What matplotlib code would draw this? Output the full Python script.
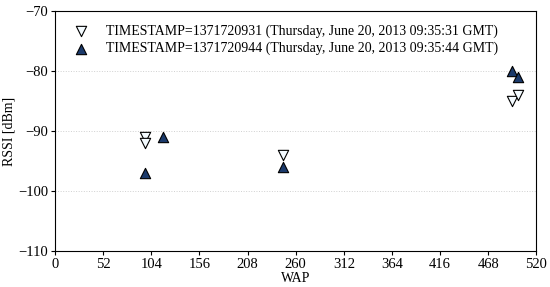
import numpy as np
import matplotlib
matplotlib.use('Agg')
import matplotlib.pyplot as plt

plt.rcParams['font.family'] = ['Liberation Serif', 'DejaVu Serif']
plt.rcParams['mathtext.fontset'] = 'stix'

# readings from the two scans
wap_a = [97, 97, 246, 494, 500]
rssi_a = [-91, -92, -94, -85, -84]
wap_b = [97, 117, 246, 494, 500]
rssi_b = [-97, -91, -96, -80, -81]

label_a = 'TIMESTAMP=1371720931 (Thursday, June 20, 2013 09:35:31 GMT)'
label_b = 'TIMESTAMP=1371720944 (Thursday, June 20, 2013 09:35:44 GMT)'

xticks = np.arange(0, 521, 52)
yticks = np.arange(-110, -69, 10)

fig = plt.figure(figsize=(5.5, 2.87), dpi=100)
ax = fig.add_axes([0.1, 0.125, 0.875, 0.837])

ax.scatter(wap_a, rssi_a, marker='v', s=55, facecolor='#f4fbff', edgecolor='black',
           linewidth=0.8, label=label_a, zorder=3)
ax.scatter(wap_b, rssi_b, marker='^', s=55, facecolor='#1b3a6b', edgecolor='black',
           linewidth=0.8, label=label_b, zorder=3)

ax.set_xlim(0, 520)
ax.set_ylim(-110, -70)
ax.set_xticks(xticks)
ax.set_yticks(yticks)
ax.tick_params(labelsize=10.5, length=3, width=0.8, pad=2)
ax.yaxis.grid(True, linestyle=':', color='#d0d0d0', linewidth=0.7)
ax.set_axisbelow(True)
ax.set_xlabel('WAP', fontsize=10, labelpad=1)
ax.set_ylabel('RSSI [dBm]', fontsize=10, labelpad=2)
for s in ax.spines.values():
    s.set_linewidth(0.8)

ax.legend(loc='upper left', frameon=False, fontsize=10, handletextpad=0.8,
          borderaxespad=0.3, labelspacing=0.3, bbox_to_anchor=(0.005, 0.985))

fig.savefig('out.png', dpi=100)
